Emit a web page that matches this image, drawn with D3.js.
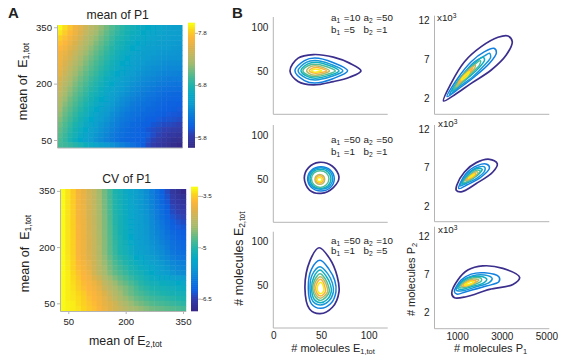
<!DOCTYPE html>
<html><head><meta charset="utf-8">
<script src="https://cdn.jsdelivr.net/npm/d3@7"></script>
<style>html,body{margin:0;background:#fff}svg{display:block}text{font-family:"Liberation Sans",Arial,sans-serif;fill:#222}</style>
</head><body><svg id="c" width="566" height="364"></svg>
<script>
const gridIdx = d3.range(24);
const meanTicks = [7.8, 6.8, 5.8];
const cvTicks = [-3.5, -5, -6.5];
const eTicks = [50, 200, 350];
const meanGrid = [
[7.95,7.86,7.76,7.64,7.55,7.43,7.34,7.25,7.15,7.06,6.96,6.89,6.82,6.75,6.70,6.66,6.61,6.59,6.56,6.54,6.52,6.49,6.47,6.47],
[7.88,7.80,7.70,7.60,7.50,7.38,7.29,7.20,7.10,7.01,6.92,6.85,6.78,6.72,6.67,6.63,6.59,6.56,6.54,6.52,6.50,6.48,6.46,6.45],
[7.81,7.74,7.65,7.55,7.45,7.33,7.24,7.15,7.05,6.97,6.88,6.81,6.75,6.69,6.64,6.60,6.56,6.54,6.52,6.50,6.48,6.46,6.44,6.43],
[7.74,7.68,7.59,7.49,7.39,7.28,7.19,7.10,7.01,6.93,6.84,6.77,6.72,6.66,6.61,6.57,6.53,6.51,6.49,6.47,6.45,6.44,6.42,6.41],
[7.69,7.63,7.54,7.44,7.34,7.23,7.14,7.05,6.97,6.89,6.81,6.74,6.69,6.63,6.58,6.54,6.50,6.48,6.46,6.44,6.43,6.42,6.40,6.39],
[7.64,7.58,7.49,7.39,7.29,7.18,7.09,7.01,6.93,6.85,6.78,6.71,6.65,6.60,6.55,6.51,6.47,6.45,6.43,6.41,6.40,6.39,6.38,6.37],
[7.62,7.54,7.45,7.34,7.24,7.13,7.05,6.97,6.89,6.82,6.74,6.68,6.62,6.57,6.52,6.48,6.45,6.42,6.40,6.38,6.37,6.36,6.35,6.35],
[7.60,7.50,7.40,7.29,7.19,7.09,7.01,6.93,6.86,6.78,6.71,6.65,6.59,6.54,6.49,6.45,6.42,6.39,6.37,6.35,6.33,6.32,6.32,6.32],
[7.57,7.46,7.35,7.24,7.14,7.05,6.97,6.90,6.82,6.75,6.68,6.62,6.56,6.51,6.46,6.42,6.39,6.36,6.34,6.32,6.30,6.28,6.28,6.28],
[7.53,7.42,7.30,7.19,7.10,7.01,6.93,6.86,6.78,6.71,6.64,6.58,6.53,6.48,6.43,6.39,6.35,6.33,6.31,6.28,6.26,6.25,6.24,6.23],
[7.48,7.37,7.25,7.14,7.05,6.97,6.89,6.82,6.74,6.67,6.60,6.55,6.49,6.44,6.40,6.36,6.32,6.29,6.27,6.24,6.22,6.20,6.19,6.19],
[7.43,7.32,7.20,7.09,7.01,6.93,6.85,6.78,6.70,6.63,6.57,6.51,6.46,6.41,6.36,6.32,6.28,6.25,6.23,6.20,6.18,6.16,6.14,6.14],
[7.39,7.27,7.15,7.05,6.97,6.89,6.81,6.74,6.67,6.60,6.53,6.48,6.42,6.37,6.32,6.28,6.24,6.21,6.18,6.15,6.13,6.11,6.10,6.09],
[7.34,7.22,7.11,7.01,6.93,6.85,6.77,6.70,6.63,6.56,6.50,6.44,6.38,6.33,6.28,6.24,6.20,6.17,6.14,6.11,6.08,6.07,6.05,6.05],
[7.29,7.17,7.06,6.97,6.89,6.81,6.73,6.66,6.59,6.53,6.46,6.40,6.34,6.29,6.24,6.20,6.16,6.13,6.10,6.08,6.05,6.04,6.02,6.02],
[7.25,7.12,7.02,6.93,6.85,6.77,6.69,6.62,6.55,6.49,6.42,6.36,6.30,6.25,6.20,6.16,6.13,6.10,6.08,6.05,6.03,6.01,6.00,5.99],
[7.20,7.07,6.98,6.89,6.81,6.73,6.65,6.58,6.51,6.45,6.38,6.32,6.26,6.21,6.17,6.13,6.10,6.07,6.05,6.03,6.00,5.98,5.97,5.96],
[7.15,7.03,6.94,6.85,6.77,6.69,6.61,6.54,6.47,6.41,6.34,6.28,6.22,6.17,6.13,6.10,6.07,6.04,6.02,6.00,5.97,5.96,5.95,5.94],
[7.10,6.99,6.90,6.81,6.73,6.65,6.57,6.50,6.43,6.37,6.30,6.24,6.18,6.14,6.10,6.07,6.04,6.01,5.99,5.96,5.94,5.93,5.92,5.90],
[7.05,6.95,6.86,6.77,6.69,6.61,6.53,6.46,6.39,6.33,6.26,6.21,6.15,6.11,6.07,6.04,6.01,5.98,5.94,5.92,5.89,5.88,5.86,5.84],
[7.01,6.92,6.82,6.73,6.65,6.57,6.49,6.42,6.36,6.30,6.23,6.18,6.12,6.08,6.05,6.02,5.98,5.94,5.90,5.87,5.84,5.82,5.80,5.78],
[6.97,6.89,6.79,6.70,6.61,6.53,6.46,6.39,6.33,6.27,6.20,6.15,6.10,6.06,6.04,6.02,6.00,5.96,5.90,5.85,5.80,5.76,5.74,5.72],
[6.94,6.86,6.76,6.67,6.58,6.50,6.43,6.36,6.30,6.24,6.18,6.13,6.08,6.05,6.03,6.01,5.99,5.92,5.85,5.79,5.74,5.71,5.68,5.66],
[6.92,6.89,6.85,6.80,6.74,6.67,6.60,6.53,6.47,6.41,6.35,6.29,6.23,6.17,6.10,6.04,5.97,5.88,5.81,5.76,5.71,5.67,5.64,5.61]
];
const cvGrid = [
[-3.30,-3.41,-3.55,-3.76,-3.87,-4.05,-4.19,-4.44,-4.65,-4.87,-5.08,-5.19,-5.33,-5.44,-5.54,-5.65,-5.76,-5.93,-6.08,-6.25,-6.43,-6.65,-6.75,-6.82],
[-3.30,-3.41,-3.54,-3.75,-3.86,-4.04,-4.18,-4.43,-4.64,-4.86,-5.07,-5.18,-5.32,-5.43,-5.53,-5.64,-5.74,-5.90,-6.05,-6.21,-6.38,-6.59,-6.68,-6.75],
[-3.30,-3.41,-3.54,-3.75,-3.86,-4.04,-4.18,-4.42,-4.63,-4.85,-5.06,-5.18,-5.31,-5.43,-5.53,-5.63,-5.73,-5.88,-6.02,-6.18,-6.34,-6.53,-6.62,-6.68],
[-3.30,-3.41,-3.53,-3.75,-3.85,-4.03,-4.17,-4.41,-4.62,-4.84,-5.05,-5.17,-5.30,-5.42,-5.52,-5.62,-5.71,-5.86,-6.00,-6.14,-6.30,-6.47,-6.56,-6.61],
[-3.30,-3.41,-3.53,-3.75,-3.85,-4.03,-4.17,-4.40,-4.61,-4.83,-5.05,-5.17,-5.30,-5.42,-5.52,-5.61,-5.70,-5.84,-5.97,-6.11,-6.25,-6.42,-6.50,-6.55],
[-3.30,-3.41,-3.53,-3.74,-3.85,-4.03,-4.16,-4.39,-4.60,-4.82,-5.04,-5.16,-5.29,-5.41,-5.52,-5.60,-5.68,-5.82,-5.94,-6.08,-6.21,-6.36,-6.44,-6.49],
[-3.30,-3.41,-3.52,-3.74,-3.84,-4.02,-4.16,-4.38,-4.59,-4.81,-5.03,-5.16,-5.28,-5.41,-5.51,-5.59,-5.67,-5.80,-5.91,-6.04,-6.16,-6.30,-6.37,-6.42],
[-3.30,-3.41,-3.52,-3.73,-3.84,-4.02,-4.15,-4.38,-4.59,-4.80,-5.02,-5.15,-5.27,-5.40,-5.51,-5.58,-5.66,-5.78,-5.88,-6.00,-6.12,-6.24,-6.31,-6.35],
[-3.30,-3.41,-3.51,-3.73,-3.83,-4.01,-4.15,-4.37,-4.58,-4.79,-5.01,-5.15,-5.26,-5.40,-5.51,-5.58,-5.65,-5.76,-5.86,-5.97,-6.08,-6.18,-6.25,-6.29],
[-3.30,-3.41,-3.51,-3.73,-3.83,-4.00,-4.14,-4.36,-4.57,-4.78,-4.99,-5.13,-5.25,-5.38,-5.50,-5.57,-5.64,-5.74,-5.83,-5.93,-6.03,-6.14,-6.21,-6.25],
[-3.30,-3.41,-3.51,-3.73,-3.83,-3.99,-4.13,-4.35,-4.56,-4.77,-4.97,-5.11,-5.23,-5.35,-5.48,-5.55,-5.62,-5.71,-5.79,-5.89,-5.99,-6.09,-6.17,-6.20],
[-3.30,-3.41,-3.51,-3.73,-3.83,-3.99,-4.13,-4.34,-4.56,-4.76,-4.96,-5.10,-5.21,-5.32,-5.46,-5.53,-5.60,-5.68,-5.75,-5.84,-5.95,-6.05,-6.12,-6.15],
[-3.30,-3.41,-3.51,-3.73,-3.83,-3.98,-4.12,-4.33,-4.55,-4.76,-4.94,-5.08,-5.19,-5.29,-5.44,-5.51,-5.58,-5.65,-5.72,-5.79,-5.90,-6.01,-6.08,-6.11],
[-3.30,-3.40,-3.50,-3.71,-3.81,-3.95,-4.10,-4.31,-4.51,-4.71,-4.89,-5.02,-5.13,-5.23,-5.36,-5.43,-5.51,-5.58,-5.66,-5.74,-5.83,-5.93,-6.00,-6.03],
[-3.30,-3.39,-3.49,-3.68,-3.78,-3.91,-4.08,-4.28,-4.47,-4.66,-4.83,-4.96,-5.07,-5.16,-5.27,-5.35,-5.42,-5.50,-5.58,-5.66,-5.74,-5.84,-5.90,-5.93],
[-3.30,-3.38,-3.49,-3.65,-3.75,-3.87,-4.06,-4.25,-4.43,-4.62,-4.77,-4.89,-5.00,-5.10,-5.19,-5.27,-5.35,-5.43,-5.52,-5.60,-5.67,-5.76,-5.83,-5.86],
[-3.30,-3.37,-3.48,-3.62,-3.73,-3.83,-4.05,-4.23,-4.40,-4.58,-4.72,-4.83,-4.94,-5.04,-5.12,-5.19,-5.29,-5.37,-5.47,-5.54,-5.61,-5.69,-5.76,-5.79],
[-3.30,-3.37,-3.46,-3.58,-3.69,-3.78,-3.94,-4.10,-4.30,-4.46,-4.60,-4.72,-4.83,-4.94,-5.03,-5.11,-5.20,-5.28,-5.35,-5.40,-5.45,-5.51,-5.56,-5.60],
[-3.30,-3.37,-3.44,-3.55,-3.66,-3.73,-3.83,-3.98,-4.19,-4.33,-4.47,-4.62,-4.72,-4.83,-4.94,-5.04,-5.12,-5.19,-5.22,-5.26,-5.29,-5.33,-5.37,-5.40],
[-3.30,-3.37,-3.43,-3.53,-3.62,-3.69,-3.78,-3.91,-4.10,-4.24,-4.37,-4.51,-4.61,-4.72,-4.84,-4.95,-5.02,-5.09,-5.13,-5.17,-5.20,-5.23,-5.27,-5.30],
[-3.30,-3.37,-3.41,-3.48,-3.55,-3.66,-3.73,-3.83,-3.98,-4.15,-4.30,-4.44,-4.58,-4.69,-4.79,-4.87,-4.94,-5.01,-5.04,-5.08,-5.12,-5.15,-5.19,-5.22],
[-3.30,-3.37,-3.40,-3.45,-3.52,-3.62,-3.69,-3.78,-3.91,-4.07,-4.21,-4.35,-4.47,-4.58,-4.69,-4.76,-4.83,-4.90,-4.94,-4.97,-5.01,-5.04,-5.08,-5.11],
[-3.30,-3.34,-3.37,-3.44,-3.51,-3.58,-3.66,-3.76,-3.87,-3.98,-4.08,-4.23,-4.37,-4.47,-4.58,-4.65,-4.72,-4.79,-4.83,-4.87,-4.90,-4.94,-4.97,-5.01],
[-3.30,-3.34,-3.37,-3.41,-3.48,-3.55,-3.62,-3.73,-3.83,-3.94,-4.05,-4.15,-4.26,-4.37,-4.44,-4.51,-4.58,-4.65,-4.69,-4.72,-4.76,-4.79,-4.83,-4.87]
];

// contours: outer → inner, x then y in data units
const contourColors = ["#3b2f8e","#1180e0","#1798d8","#10aec2","#4fbc98","#b5bb66","#fbb13c","#f9ea1a"];
const e1 = [
[[17.5,50],[26,64.6],[42,68.8],[63,65.8],[80,58.9],[92,50],[80,42.7],[63,37.7],[42,33.8],[26,37.7]],
[[22.7,50],[32.7,61.8],[43.7,64.7],[62.5,59.6],[78,50],[62.5,41],[43.7,36],[32.7,38.8]],
[[26,50],[34.5,59.8],[43.9,62],[59.8,57.8],[73,50],[59.8,43.2],[43.9,39.6],[34.5,41.7]],
[[29,50],[36.2,58],[44.2,60],[57.8,56.5],[69,50],[57.8,44.5],[44.2,41.6],[36.2,43.3]],
[[31,50],[37,56.2],[44,57.7],[55.5,55],[65,50],[55.5,45.7],[44,43.4],[37,44.7]],
[[35,50],[39.3,54.8],[44,56],[52.3,53.9],[59,50],[52.3,46.7],[44,45],[39.3,46]],
[[37.7,50],[41,53.2],[44.7,54],[50.9,52.6],[56,50],[50.9,48.2],[44.7,47.3],[41,47.8]],
[[40,50],[42,51.6],[44.2,52],[47.9,51.3],[51,50],[47.9,49],[44.2,48.5],[42,48.8]]
];
const e2 = [
[[32.5,51],[37,63],[48,69],[62,64.5],[68.9,52],[63,40],[50,33.3],[38,37]],
[[36,50],[40,60],[50,64],[60,60],[64,50],[60,40],[50,36],[40,40]],
[[37,50],[41,59.5],[49.7,62.8],[58.5,59.5],[62.3,50],[58.5,41],[49.7,38],[41,41]],
[[38.5,50],[41.7,58],[49.5,61],[57.3,58],[60.5,50],[57.3,42],[49.5,39],[41.7,42]],
[[40,50],[42.7,56.7],[49.2,59.3],[55.7,56.7],[58.4,50],[55.7,43.2],[49.2,40.2],[42.7,43.2]],
[[43.7,49.5],[45.2,53.4],[48.8,55],[52.4,53.4],[53.9,49.5],[52.4,45.3],[48.8,43.7],[45.2,45.3]],
[[44.8,49.5],[45.9,52.3],[48.6,53.5],[51.3,52.3],[52.4,49.5],[51.3,46.4],[48.6,45.2],[45.9,46.4]],
[[46,49.3],[46.8,51],[48.5,51.7],[50.2,51],[51,49.3],[50.2,47.5],[48.5,46.7],[46.8,47.5]]
];
const e3 = [
[[33.2,46],[38.5,78],[48,93],[59.4,80],[67,60],[68.9,42],[62,24],[49,16.6],[38,22]],
[[36.7,46],[40,68],[49,78.4],[58.5,68],[64.5,55],[65.7,42],[60,28],[49.5,22.8],[40,28]],
[[38.5,46],[41,62],[49,71],[57,63],[62,52],[63,42],[58,31],[49.5,26.6],[41.5,31]],
[[40.2,46],[42.5,59],[49,67.2],[55.5,60],[60,50],[60.8,42],[56.5,33],[49.5,29.3],[43,33]],
[[41.3,46],[43.5,56],[49,62.9],[54.5,57],[58,48],[58.7,42],[55,35.5],[49.5,32],[44,36]],
[[42.7,46],[44.5,54],[49.5,59.4],[53.5,55],[56.5,47],[57,42],[54,37.5],[49.5,34.4],[45,38]],
[[44.4,46],[45.7,52],[49.5,56.4],[52.5,53],[54.4,46],[54.9,43],[53,39.5],[49.5,37],[46,40]],
[[46.1,46],[47,50],[49.5,53],[51.7,50.5],[53,46],[53.1,44],[52,41.5],[49.5,39.7],[47,42]]
];
const p1 = [
[[390,1.67],[730,3.93],[1330,6.7],[2080,8.63],[2830,9.83],[3280,10],[3470,9.27],[3200,7.56],[2530,5.64],[1630,3.93],[880,2.44]],
[[550,2.22],[1030,4.58],[1630,6.7],[2230,7.99],[2650,8.42],[2760,7.86],[2450,6.5],[1780,4.78],[1100,3.3]],
[[660,2.44],[1180,4.78],[1780,6.7],[2230,7.44],[2450,7.78],[2500,7.27],[2230,6.28],[1700,4.78],[1100,3.5]],
[[760,2.86],[1250,5],[1780,6.5],[2150,7.27],[2230,6.92],[2000,5.99],[1550,4.78],[1100,3.72]],
[[850,3.17],[1250,5],[1700,6.15],[2040,6.83],[2000,6.28],[1630,5.22],[1180,3.94]],
[[960,3.5],[1250,4.78],[1550,5.64],[1810,6.28],[1780,5.86],[1480,5],[1180,4.14]],
[[1060,3.94],[1250,4.78],[1480,5.42],[1700,5.99],[1630,5.55],[1400,4.87],[1180,4.3]],
[[1180,4.36],[1360,5],[1550,5.42],[1510,5.13],[1330,4.58]]
];
const p2 = [
[[960,4.1],[985,4.74],[1330,6.45],[1860,7.65],[2450,8.08],[2800,7.52],[2600,6.45],[1860,4.96],[1180,3.88]],
[[1075,4.32],[1400,6.24],[1930,7.3],[2330,7.44],[2450,6.96],[2080,5.8],[1480,4.83]],
[[1135,4.65],[1480,6.24],[1975,7.09],[2230,7.09],[2230,6.54],[1860,5.6],[1400,4.96]],
[[1210,4.87],[1480,6.03],[1885,6.88],[2125,6.79],[2000,6.24],[1700,5.6],[1400,5.09]],
[[1285,5.09],[1525,5.94],[1860,6.67],[2035,6.58],[1825,5.94],[1525,5.3]],
[[1360,5.3],[1555,5.9],[1825,6.45],[1930,6.37],[1735,5.8],[1525,5.47]],
[[1435,5.47],[1585,5.9],[1795,6.28],[1825,6.1],[1630,5.73]],
[[1510,5.64],[1630,5.94],[1765,6.2],[1735,6.03],[1600,5.77]]
];
const p3 = [
[[760,4.52],[1030,6.25],[1480,7.55],[2150,8.1],[3050,7.77],[3800,6.6],[3500,5.69],[2450,5.04],[1400,4.08],[880,3.95]],
[[880,4.73],[1180,6.25],[1630,7.03],[2230,7.2],[2870,6.68],[2870,6.03],[2300,5.47],[1400,4.73],[985,4.43]],
[[960,4.95],[1260,6.25],[1680,6.8],[2230,6.9],[2570,6.47],[2450,5.95],[1860,5.38],[1260,4.86]],
[[1030,5.17],[1330,6.25],[1700,6.68],[2150,6.68],[2330,6.34],[2150,5.82],[1630,5.38],[1210,5.04]],
[[1110,5.3],[1360,6.12],[1735,6.55],[2080,6.47],[2080,6.12],[1700,5.6],[1285,5.25]],
[[1180,5.47],[1400,6.03],[1735,6.38],[1975,6.25],[1770,5.86],[1400,5.47]],
[[1260,5.51],[1435,5.95],[1700,6.2],[1860,6.12],[1680,5.82],[1400,5.51]],
[[1330,5.6],[1480,5.9],[1700,6.08],[1735,5.95],[1555,5.69]]
];
const paramRows = [
  [["a","1"," =10"],["a","2"," =50"],["b","1"," =5"],["b","2"," =1"]],
  [["a","1"," =50"],["a","2"," =50"],["b","1"," =1"],["b","2"," =1"]],
  [["a","1"," =50"],["a","2"," =10"],["b","1"," =1"],["b","2"," =5"]]
];
const eTicksB = [0, 50, 100];
const yTicksE = [50, 100];
const pXTicks = [1000, 3000, 5000];
const pYTicks = [2, 7, 12];

const svg = d3.select("#c");
const AXIS = "#b4b4b4";
const colorStops = [0,.1,.16,.23,.35,.42,.5,.58,.68,.74,.81,.89,.95,1];
const colorVals = ["#352a87","#3040b0","#0f5fe0","#0a74dc","#0a9ccf","#06a8c6","#1fb3ad","#52ba8e","#a3bb6f","#bcb865","#dcb24c","#fdb63a","#fbd41f","#f9fb15"];

function styleAxis(g, size){
  g.selectAll(".domain,line").attr("stroke", AXIS);
  g.selectAll("text").attr("font-size", size).attr("fill","#222");
}
function subText(sel, parts, subSize){
  parts.forEach(([t,s])=>{
    sel.append("tspan").text(t)
      .attr("font-size", s ? subSize : null)
      .attr("dy", s === 1 ? "0.28em" : s === 2 ? "-0.45em" : null);
    if(s){ sel.append("tspan").text("\u200a").attr("dy", s === 1 ? "-0.22em" : "0.3em"); }
  });
}
function heat(opts){
  const {grid,x0,x1,y0,y1,xDom,yDom,cb,ticks,cbDom}=opts;
  const color = d3.scaleLinear().domain(colorStops.map(t=>cbDom[0]+t*(cbDom[1]-cbDom[0]))).range(colorVals).clamp(true);
  const bx = d3.scaleBand().domain(gridIdx).range([x0,x1]);
  const by = d3.scaleBand().domain(gridIdx).range([y0,y1]);
  const g = svg.append("g").attr("filter","url(#soft)");
  grid.forEach((row,r)=>g.selectAll(null).data(row).join("rect")
    .attr("x",(d,c)=>bx(c)).attr("y",by(r)).attr("width",bx.bandwidth()+.5).attr("height",by.bandwidth()+.5)
    .attr("fill",d=>color(d)));
  const xs = d3.scaleLinear().domain(xDom).range([x0,x1]);
  const ys = d3.scaleLinear().domain(yDom).range([y1,y0]);
  const ya = svg.append("g").attr("transform",`translate(${x0},0)`).call(d3.axisLeft(ys).tickValues(eTicks).tickSize(3).tickSizeOuter(0).tickPadding(2));
  styleAxis(ya,9.6);
  const xa = svg.append("g").attr("transform",`translate(0,${y1})`).call(d3.axisBottom(xs).tickValues(opts.showX?eTicks:[]).tickSize(3).tickSizeOuter(0).tickPadding(4));
  styleAxis(xa,9.6);
  const cs = d3.scaleLinear().domain(cbDom).range([y1,y0]);
  const steps = d3.range(0,61).map(i=>cbDom[0]+(cbDom[1]-cbDom[0])*i/60);
  svg.append("g").selectAll("rect").data(steps).join("rect")
    .attr("x",cb).attr("width",7).attr("y",d=>cs(d)-(y1-y0)/60-.3).attr("height",(y1-y0)/60+.6).attr("fill",d=>color(d));
  const ca = svg.append("g").attr("transform",`translate(${cb+7},0)`).call(d3.axisRight(cs).tickValues(ticks).tickFormat(d=>String(d)).tickSize(3).tickPadding(0));
  ca.select(".domain").remove();
  styleAxis(ca,6.2);
}
const defs = svg.append("defs");
defs.append("filter").attr("id","soft").attr("x","-2%").attr("y","-2%").attr("width","104%").attr("height","104%")
  .append("feGaussianBlur").attr("stdDeviation",0.6);

heat({grid:meanGrid,x0:57,x1:182,y0:25,y1:147.5,xDom:[28,357],yDom:[30,356],cb:188,ticks:meanTicks,cbDom:[5.6,7.95],showX:false});
heat({grid:cvGrid,x0:60,x1:185.7,y0:189,y1:311,xDom:[28.3,357],yDom:[29.5,355],cb:191,ticks:cvTicks,cbDom:[-6.86,-3.3],showX:true});

function contour(opts){
  const {data,xs,ys,y0,right,x0,top,yTicks,xTicks}=opts;
  const line = d3.line().x(d=>xs(d[0])).y(d=>ys(d[1])).curve(d3.curveCatmullRomClosed.alpha(0.5));
  const g = svg.append("g");
  g.selectAll("path").data(data).join("path").attr("d",line).attr("fill","none")
    .attr("stroke",(d,i)=>contourColors[i]).attr("stroke-width",(d,i)=>i==0?1.7:1.5);
  const ya = svg.append("g").attr("transform",`translate(${x0},0)`).call(d3.axisLeft(ys).tickValues(yTicks).tickSize(0).tickPadding(5));
  ya.select(".domain").remove();
  styleAxis(ya,10);
  const xa = svg.append("g").attr("transform",`translate(0,${y0})`).call(d3.axisBottom(xs).tickValues(xTicks||[]).tickFormat(d=>String(d)).tickSize(0).tickPadding(4));
  xa.select(".domain").remove();
  styleAxis(xa,10);
  svg.append("line").attr("x1",x0).attr("x2",x0).attr("y1",top).attr("y2",y0).attr("stroke",AXIS);
  svg.append("line").attr("x1",x0).attr("x2",right).attr("y1",y0).attr("y2",y0).attr("stroke",AXIS);
}
const exs = d3.scaleLinear().domain([0,120]).range([273.3,387.7]);
const pxs = d3.scaleLinear().domain([0,5130]).range([434.8,549.3]);
contour({data:e1,xs:exs,ys:d3.scaleLinear().domain([0,112]).range([114.3,17]),y0:114.3,x0:273.3,right:387.7,top:17,yTicks:yTicksE});
contour({data:e2,xs:exs,ys:d3.scaleLinear().domain([0,112]).range([222.3,125]),y0:222.3,x0:273.3,right:387.7,top:125,yTicks:yTicksE});
contour({data:e3,xs:exs,ys:d3.scaleLinear().domain([0,111.6]).range([328,231.7]),y0:328,x0:273.3,right:387.7,top:231.7,yTicks:yTicksE,xTicks:eTicksB});
contour({data:p1,xs:pxs,ys:d3.scaleLinear().domain([0,12.6]).range([114,15.7]),y0:114.3,x0:434.5,right:549.3,top:15.7,yTicks:pYTicks});
contour({data:p2,xs:pxs,ys:d3.scaleLinear().domain([0,12.5]).range([222,125]),y0:221.7,x0:434.5,right:549.3,top:125,yTicks:pYTicks});
contour({data:p3,xs:pxs,ys:d3.scaleLinear().domain([0,13.2]).range([328.1,226.7]),y0:328.7,x0:434.5,right:549.3,top:226.7,yTicks:pYTicks,xTicks:pXTicks});

function label(x,y,parts,size,anchor,rot,extra){
  const t = svg.append("text").attr("font-size",size).attr("text-anchor",anchor||"start")
    .attr("transform",`translate(${x},${y})${rot?` rotate(${rot})`:""}`);
  if(extra) t.attr("font-weight",extra);
  subText(t,parts,size*0.68);
  return t;
}
const gap = "\u00a0\u00a0";
label(8,18,[["A",0]],15,"start",0,"bold");
label(232,18,[["B",0]],15,"start",0,"bold");
label(117.7,19,[["mean of P1",0]],12.2,"middle");
label(126.7,183,[["CV of P1",0]],12.2,"middle");
label(27,81,[["mean of"+gap+"E",0],["1,tot",1]],12.6,"middle",-90);
label(29,253,[["mean of"+gap+"E",0],["1,tot",1]],12.6,"middle",-90);
label(126,345,[["mean of E",0],["2,tot",1]],12.4,"middle");
label(243,258,[["# molecules E",0],["2,tot",1]],12.4,"middle",-90);
label(333.5,351.5,[["# molecules E",0],["1,tot",1]],11,"middle");
label(491,351.5,[["# molecules P",0],["1",1]],11,"middle");
label(415,279,[["# molecules P",0],["2",1]],11,"middle",-90);

const paramY = [[21,33],[143,155],[244,254]];
paramRows.forEach((rows,i)=>rows.forEach((p,j)=>{
  label(j%2?363.5:331, paramY[i][j<2?0:1], [[p[0],0],[p[1],1],[p[2],0]], 9.8);
}));
[[437,21],[438,127],[438,233]].forEach(([x,y])=>label(x,y,[["x10",0],["3",2]],9.8));
</script></body></html>
